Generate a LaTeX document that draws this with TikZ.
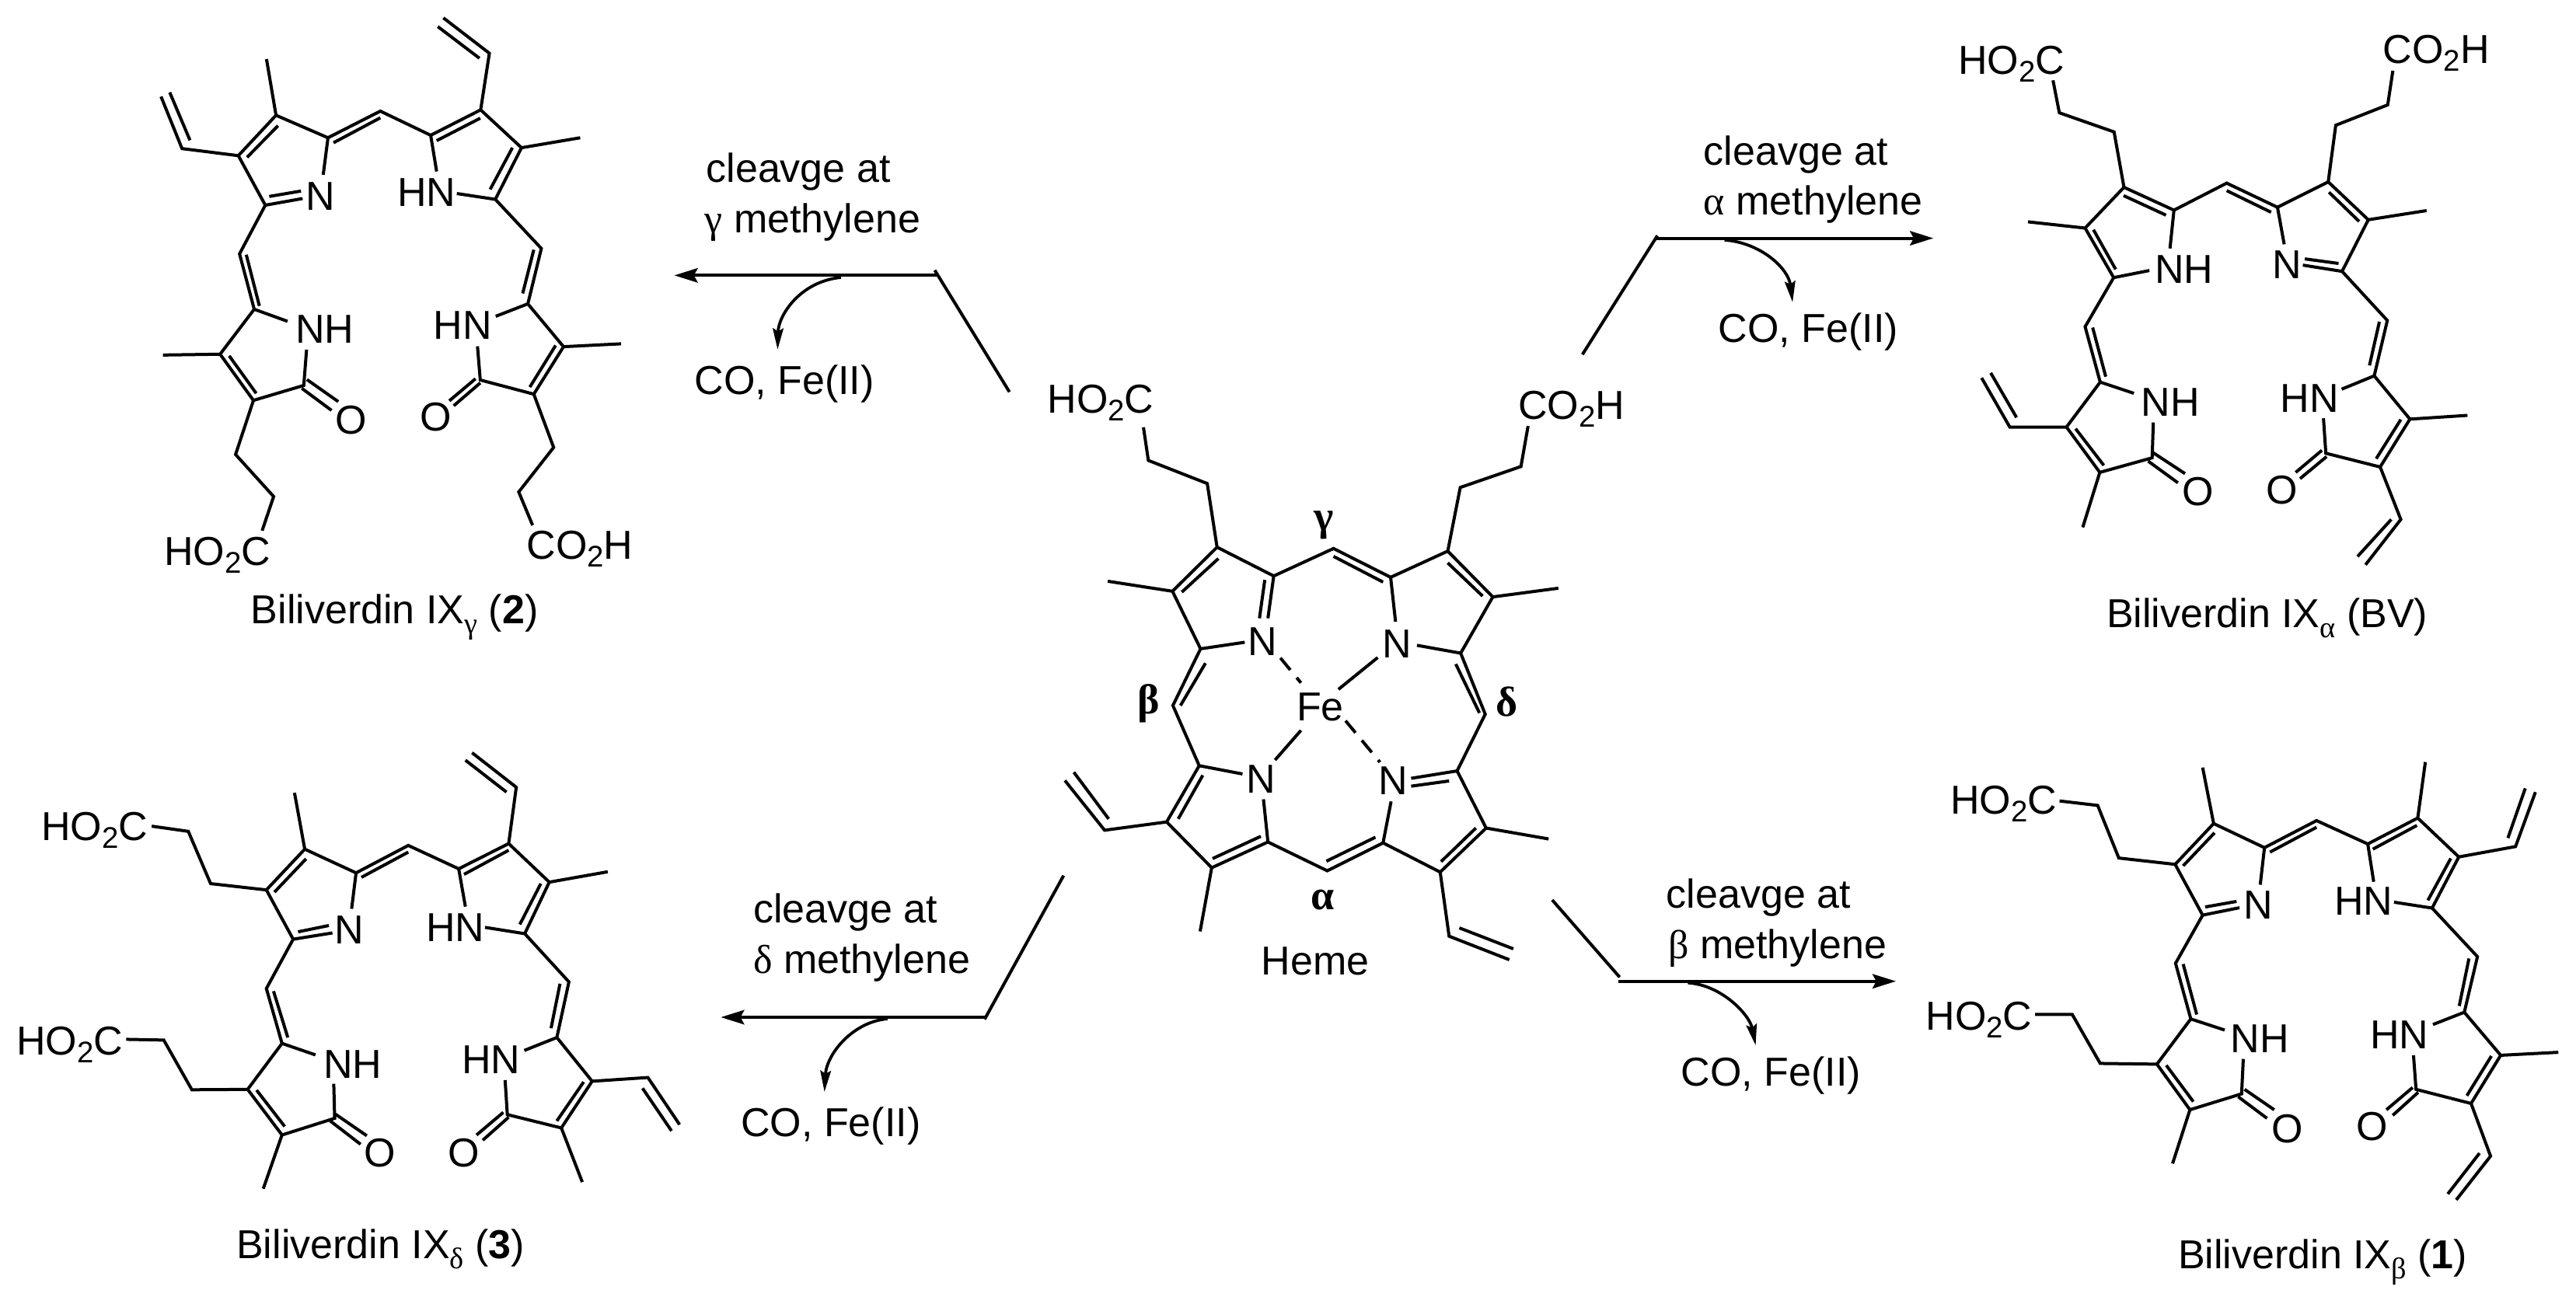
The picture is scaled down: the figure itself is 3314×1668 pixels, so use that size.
\documentclass[tikz,border=0pt]{standalone}
\usepackage{fontspec}
\usetikzlibrary{arrows.meta}
\setmainfont{Liberation Sans}
\newfontfamily\grk{Liberation Serif}
\newcommand{\sbs}[1]{\raisebox{-0.19em}{\fontsize{9.6}{10}\selectfont #1}}
\newcommand{\gsb}[1]{\raisebox{-0.25em}{\fontsize{9.6}{10}\selectfont\grk #1}}
\newcommand{\gk}[1]{{\grk #1}}
\tikzset{
  bond/.style={line width=1pt,line join=miter,line cap=butt,black},
  lab/.style={inner sep=0pt,outer sep=0pt,font=\fontsize{13}{15}\selectfont,text=black},
  lw/.style={lab,anchor=base west},
  lc/.style={lab,anchor=base},
  gr/.style={lab,anchor=center,font=\fontsize{13.5}{15}\selectfont\grk\bfseries},
  mainarrow/.style={line width=1pt,black,-{Stealth[length=7.5pt,width=4.6pt,inset=1.2pt]}},
  sidearrow/.style={line width=0.95pt,black,-{Stealth[length=6.8pt,width=3.4pt,inset=1pt]}},
  kink/.style={line width=1pt,black}
}
\begin{document}
\begin{tikzpicture}[x=0.25pt,y=-0.25pt]
\useasboundingbox (0,0) rectangle (3314,1668);
\fill[white] (0,0) rectangle (3314,1668);

% ---------- Heme ----------
\begin{scope}[shift={(1250,400)},x=0.14351pt,y=-0.14029pt]
\draw[bond] (385,267)--(396,343)--(528,396)--(550,542)--(450,643)--(513,775)--(612,760)
 (553,568)--(471,645) (305,620)--(450,643)
 (550,542)--(677,608)--(664,705) (657,617)--(645,705)
 (677,608)--(811,545)--(939,611)--(950,713) (811,563)--(922,622)
 (939,611)--(1067,551)--(1168,656)--(1096,785)--(998,767) (1067,578)--(1145,654)
 (1168,656)--(1315,636)
 (1067,551)--(1095,405)--(1231,357)--(1247,264)
 (1096,785)--(1151,925)--(1088,1055) (1085,810)--(1138,922)
 (985,1072)--(1088,1055)--(1153,1186)--(1050,1287)--(922,1220)--(940,1125)
 (985,1090)--(1070,1078) (1130,1186)--(1052,1263) (1153,1186)--(1293,1211)
 (1050,1287)--(1070,1434)--(1205,1488) (1093,1415)--(1214,1463)
 (922,1220)--(797,1284)--(664,1218)--(654,1120) (795,1262)--(905,1207)
 (664,1218)--(538,1277)--(437,1172)--(510,1043)--(607,1062)
 (540,1256)--(648,1205) (463,1165)--(518,1065)
 (538,1277)--(512,1423)
 (437,1172)--(298,1191)--(209,1077) (307,1165)--(229,1058)
 (510,1043)--(451,905)--(513,775) (468,905)--(524,808)
 (910,795)--(822,868) (738,962)--(680,1030);
\draw[bond,dash pattern=on 5pt off 3.2pt] (692,796)--(738,853) (838,940)--(915,1035);
\node[lw] (hemeA) at (170,235) {HO\sbs{2}C};
\node[lw] (hemeB) at (1225,248) {CO\sbs{2}H};
\node[lc] (hemeN1) at (652,790) {N};
\node[lc] (hemeN2) at (953,795) {N};
\node[lc] (hemeN3) at (648,1105) {N};
\node[lc] (hemeN4) at (945,1110) {N};
\node[lc] (hemeFe) at (781,940) {Fe};
\node[lc] (hemeName) at (770,1522) {Heme};
\node[gr] (hemeG) at (790,492) {γ};
\node[gr] (hemeBeta) at (397,900) {β};
\node[gr] (hemeD) at (1200,897) {δ};
\node[gr] (hemeAl) at (787,1350) {α};
\end{scope}

% ---------- Biliverdin gamma ----------
\begin{scope}[shift={(100,0)},x=0.12755pt,y=-0.13390pt]
\draw[bond] (210,232)--(263,357)--(405,374) (232,222)--(283,337)
 (405,374)--(500,277)--(476,142) (427,378)--(505,302)
 (500,277)--(631,331)--(619,420)
 (405,374)--(473,493)--(567,477) (483,472)--(563,459)
 (631,331)--(763,267)--(890,325)--(905,412) (645,343)--(763,283)
 (890,325)--(1016,264)--(1038,128)--(922,43) (905,338)--(1015,284) (1013,140)--(908,64)
 (1016,264)--(1119,355)--(1053,479)--(956,465) (1096,355)--(1040,455) (1119,355)--(1267,331)
 (1053,479)--(1169,597)--(1135,730)--(1054,760) (1150,600)--(1122,705)
 (1135,730)--(1225,833)--(1150,947)--(1015,913)--(1008,832)
 (1205,830)--(1140,930) (1225,833)--(1370,826)
 (1015,920)--(948,975) (1003,910)--(937,963)
 (1150,947)--(1200,1075)--(1112,1182)--(1147,1262)
 (473,493)--(408,610)--(445,743)--(529,772) (425,612)--(458,735)
 (445,743)--(359,851)--(215,853)
 (359,851)--(443,962)--(570,926)--(577,840) (382,855)--(450,945)
 (565,933)--(640,986) (578,912)--(657,965)
 (443,962)--(398,1092)--(494,1193)--(465,1275);
\node[lc] (gN1) at (613,505) {N};
\node[lw] (gN2) at (806,495) {HN};
\node[lw] (gN3) at (549,825) {NH};
\node[lw] (gN4) at (897,815) {HN};
\node[lc] (gO1) at (690,1042) {O};
\node[lc] (gO2) at (903,1036) {O};
\node[lw] (gA) at (218,1358) {HO\sbs{2}C};
\node[lw] (gB) at (1132,1343) {CO\sbs{2}H};
\node[lw] (gName) at (437,1498) {Biliverdin IX\gsb{γ} (\textbf{2})};
\end{scope}

% ---------- Biliverdin alpha ----------
\begin{scope}[shift={(2460,0)},x=0.12755pt,y=-0.13390pt]
\draw[bond] (355,193)--(371,271)--(509,317)--(534,450)--(436,548)--(508,667)--(598,650)
 (457,552)--(513,647) (436,548)--(292,533)
 (534,450)--(660,505)--(650,597) (533,470)--(640,517)
 (660,505)--(793,440)--(921,498)--(938,587) (793,458)--(905,510)
 (921,498)--(1049,437)--(1150,528)--(1084,652)--(985,637) (1051,462)--(1127,532)
 (990,622)--(1075,633) (1150,528)--(1297,506)
 (1049,437)--(1068,301)--(1199,252)--(1212,170)
 (1084,652)--(1198,770)--(1165,903)--(1083,935) (1178,773)--(1153,878)
 (1165,903)--(1255,1007)--(1180,1122)--(1043,1089)--(1037,1005)
 (1255,1007)--(1400,998) (1232,1008)--(1170,1102)
 (1045,1097)--(978,1150) (1033,1082)--(967,1135)
 (1180,1122)--(1232,1248)--(1143,1357) (1208,1248)--(1123,1337)
 (508,667)--(436,785)--(474,918)--(559,945) (455,787)--(488,905)
 (474,918)--(389,1026)--(246,1026)--(175,908) (263,1003)--(198,896)
 (389,1026)--(473,1135)--(605,1100)--(608,1015) (412,1030)--(483,1118)
 (595,1108)--(670,1160) (608,1088)--(688,1138)
 (473,1135)--(430,1267);
\node[lw] (aN1) at (612,680) {NH};
\node[lc] (aN2) at (945,670) {N};
\node[lw] (aN3) at (578,1000) {NH};
\node[lw] (aN4) at (928,990) {HN};
\node[lc] (aO1) at (720,1215) {O};
\node[lc] (aO2) at (933,1210) {O};
\node[lw] (aA) at (116,178) {HO\sbs{2}C};
\node[lw] (aB) at (1187,153) {CO\sbs{2}H};
\node[lw] (aName) at (490,1507) {Biliverdin IX\gsb{α} (BV)};
\end{scope}

% ---------- Biliverdin delta ----------
\begin{scope}[shift={(0,920)},x=0.14351pt,y=-0.11927pt]
\draw[bond] (340,300)--(422,314)--(472,455)--(597,472)--(683,362)--(660,210)
 (615,478)--(686,388)
 (683,362)--(798,426)--(788,523)
 (597,472)--(657,605)--(745,588) (668,585)--(737,568)
 (798,426)--(915,352)--(1028,415)--(1043,517) (810,438)--(915,370)
 (1028,415)--(1140,347)--(1157,195)--(1058,102) (1040,430)--(1140,365) (1135,208)--(1043,122)
 (1140,347)--(1231,451)--(1176,590)--(1087,573) (1231,451)--(1362,423) (1212,455)--(1165,565)
 (1176,590)--(1275,720)--(1248,870)--(1175,905) (1255,725)--(1235,845)
 (1248,870)--(1327,988)--(1452,978)--(1523,1105) (1440,1007)--(1505,1122)
 (1327,988)--(1258,1114)--(1305,1260) (1308,990)--(1248,1095)
 (1258,1114)--(1137,1078)--(1132,985)
 (1140,1085)--(1082,1147) (1128,1072)--(1068,1133)
 (657,605)--(597,738)--(632,886)--(707,917) (613,745)--(645,870)
 (632,886)--(555,1010)--(430,1011)--(367,877)--(283,875)
 (555,1010)--(632,1133)--(590,1278) (575,1012)--(638,1110)
 (632,1133)--(750,1088)--(748,995)
 (740,1095)--(808,1158) (752,1077)--(822,1135);
\node[lc] (dN1) at (783,617) {N};
\node[lw] (dN2) at (955,610) {HN};
\node[lw] (dN3) at (725,980) {NH};
\node[lw] (dN4) at (1035,968) {HN};
\node[lc] (dO1) at (851,1218) {O};
\node[lc] (dO2) at (1040,1218) {O};
\node[lw] (dA) at (93,338) {HO\sbs{2}C};
\node[lw] (dB) at (37,918) {HO\sbs{2}C};
\node[lw] (dName) at (530,1467) {Biliverdin IX\gsb{δ} (\textbf{3})};
\end{scope}

% ---------- Biliverdin beta ----------
\begin{scope}[shift={(2460,920)},x=0.13617pt,y=-0.11927pt]
\draw[bond] (348,232)--(438,244)--(488,386)--(621,403)--(712,293)--(686,142)
 (640,407)--(714,318)
 (712,293)--(832,358)--(822,458)
 (621,403)--(686,540)--(773,520) (692,518)--(766,503)
 (832,358)--(955,285)--(1076,348)--(1090,450) (845,370)--(955,303)
 (1076,348)--(1194,278)--(1212,127) (1088,362)--(1192,298)
 (1194,278)--(1291,383)--(1425,355)--(1472,208) (1407,332)--(1448,198)
 (1291,383)--(1228,521)--(1138,505) (1272,387)--(1218,500)
 (1228,521)--(1335,652)--(1304,802)--(1230,835) (1315,657)--(1292,785)
 (1304,802)--(1390,918)--(1526,910)
 (1390,918)--(1320,1048)--(1190,1010)--(1184,918) (1368,920)--(1310,1027)
 (1195,1018)--(1135,1080) (1182,1005)--(1120,1065)
 (1320,1048)--(1366,1190)--(1285,1308) (1340,1182)--(1265,1292)
 (686,540)--(622,670)--(658,820)--(738,850) (640,672)--(672,808)
 (658,820)--(578,942)--(444,940)--(378,808)--(290,808)
 (578,942)--(656,1065)--(615,1210) (600,945)--(664,1043)
 (656,1065)--(778,1022)--(782,928)
 (770,1030)--(838,1088) (785,1010)--(855,1065);
\node[lc] (bN1) at (817,550) {N};
\node[lw] (bN2) at (997,540) {HN};
\node[lw] (bN3) at (752,910) {NH};
\node[lw] (bN4) at (1082,900) {HN};
\node[lc] (bO1) at (887,1153) {O};
\node[lc] (bO2) at (1087,1148) {O};
\node[lw] (bA) at (90,268) {HO\sbs{2}C};
\node[lw] (bB) at (32,850) {HO\sbs{2}C};
\node[lw] (bName) at (628,1493) {Biliverdin IX\gsb{β} (\textbf{1})};
\end{scope}

% ---------- Arrow gamma ----------
\begin{scope}[shift={(780,160)},x=0.08929pt,y=-0.08278pt]
\coordinate (ga) at (1452,1040); \coordinate (gb) at (1183,567);
\coordinate (gt) at (1190,587); \coordinate (gh) at (245,587);
\coordinate (gs) at (845,595); \coordinate (ge) at (617,875);
\draw[kink] (ga)--(gb);
\draw[mainarrow] (gt)--(gh);
\draw[sidearrow] (gs) .. controls (700,610) and (620,740) .. (ge);
\node[lw] (gT1) at (360,225) {cleavge at};
\node[lw] (gT2) at (355,420) {\gk{γ} methylene};
\node[lw] (gT3) at (318,1048) {CO, Fe(II)};
\end{scope}

% ---------- Arrow alpha ----------
\begin{scope}[shift={(1990,140)},x=0.08929pt,y=-0.08278pt]
\coordinate (aa) at (128,955); \coordinate (ab) at (398,493);
\coordinate (at) at (395,503); \coordinate (ah) at (1392,503);
\coordinate (as) at (640,510); \coordinate (ae) at (885,752);
\draw[kink] (aa)--(ab);
\draw[mainarrow] (at)--(ah);
\draw[sidearrow] (as) .. controls (770,520) and (870,620) .. (ae);
\node[lw] (aT1) at (565,218) {cleavge at};
\node[lw] (aT2) at (565,412) {\gk{α} methylene};
\node[lw] (aT3) at (618,908) {CO, Fe(II)};
\end{scope}

% ---------- Arrow delta ----------
\begin{scope}[shift={(900,1110)},x=0.08333pt,y=-0.08333pt]
\coordinate (da) at (1405,50); \coordinate (db) at (1100,605);
\coordinate (dt) at (1100,597); \coordinate (dh) at (82,597);
\coordinate (ds) at (725,603); \coordinate (de) at (482,885);
\draw[kink] (da)--(db);
\draw[mainarrow] (dt)--(dh);
\draw[sidearrow] (ds) .. controls (590,615) and (490,740) .. (de);
\node[lw] (dT1) at (208,233) {cleavge at};
\node[lw] (dT2) at (208,428) {\gk{δ} methylene};
\node[lw] (dT3) at (160,1058) {CO, Fe(II)};
\end{scope}

% ---------- Arrow beta ----------
\begin{scope}[shift={(1970,1120)},x=0.08609pt,y=-0.08278pt]
\coordinate (ba) at (78,115); \coordinate (bb) at (330,415);
\coordinate (bt) at (325,431); \coordinate (bh) at (1362,431);
\coordinate (bs) at (585,437); \coordinate (be) at (838,680);
\draw[kink] (ba)--(bb);
\draw[mainarrow] (bt)--(bh);
\draw[sidearrow] (bs) .. controls (710,445) and (815,560) .. (be);
\node[lw] (bT1) at (505,147) {cleavge at};
\node[lw] (bT2) at (512,343) {\gk{β} methylene};
\node[lw] (bT3) at (560,838) {CO, Fe(II)};
\end{scope}
\end{tikzpicture}
\end{document}
